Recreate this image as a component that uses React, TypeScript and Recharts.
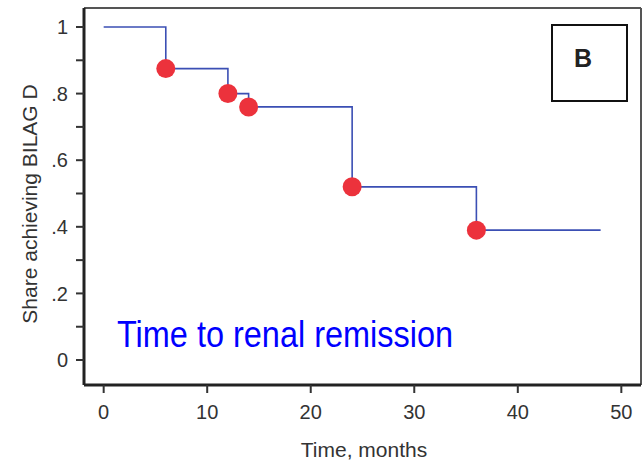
import { ComposedChart, Line, Scatter, XAxis, YAxis, ReferenceLine } from 'recharts'

const months = [0, 6, 12, 14, 24, 36, 48]
const share = [1, 0.875, 0.8, 0.76, 0.52, 0.39, 0.39]
const eventMonths = [6, 12, 14, 24, 36]
const eventShare = [0.875, 0.8, 0.76, 0.52, 0.39]
const xTicks = [0, 10, 20, 30, 40, 50]
const yTicks = [0, 0.1, 0.2, 0.3, 0.4, 0.5, 0.6, 0.7, 0.8, 0.9, 1]
const yTickLabels = ['0', '', '.2', '', '.4', '', '.6', '', '.8', '', '1']

const stepData = months.map((m, i) => ({ time: m, share: share[i] }))
const eventData = eventMonths.map((m, i) => ({ time: m, share: eventShare[i] }))

const X_DOMAIN: [number, number] = [-1.9, 51.9]
const Y_DOMAIN: [number, number] = [-0.075, 1.057]

const font = '"Liberation Sans", Arial, sans-serif'

const Dot = (props: any) => <circle cx={props.cx} cy={props.cy} r={9.5} fill='#ec323c' />

export default function App() {
  return (
    <div style={{ position: 'absolute', left: 0, top: 0, width: 644, height: 462, background: '#fff', fontFamily: font }}>
      <ComposedChart width={644} height={462} margin={{ top: 8, right: 3, left: 0, bottom: 0 }}>
        <XAxis
          dataKey='time'
          type='number'
          domain={X_DOMAIN}
          ticks={xTicks}
          allowDataOverflow
          height={77}
          tickSize={8}
          tickMargin={12}
          stroke='#222'
          tick={{ fill: '#333', fontSize: 20, fontFamily: font }}
          axisLine={{ stroke: '#222', strokeWidth: 3 }}
          tickLine={{ stroke: '#333', strokeWidth: 2 }}
        />
        <YAxis
          type='number'
          domain={Y_DOMAIN}
          ticks={yTicks}
          allowDataOverflow
          width={84}
          tickSize={8}
          tickMargin={8}
          tickFormatter={(v, i) => yTickLabels[i] ?? ''}
          stroke='#222'
          tick={{ fill: '#333', fontSize: 20, fontFamily: font }}
          axisLine={{ stroke: '#222', strokeWidth: 3 }}
          tickLine={{ stroke: '#333', strokeWidth: 2 }}
        />
        <ReferenceLine y={Y_DOMAIN[1]} stroke='#555' strokeWidth={2} ifOverflow='visible' />
        <ReferenceLine x={X_DOMAIN[1]} stroke='#555' strokeWidth={2} ifOverflow='visible' />
        <Line
          data={stepData}
          dataKey='share'
          type='stepAfter'
          stroke='#3b4fb4'
          strokeWidth={1.6}
          dot={false}
          activeDot={false}
          isAnimationActive={false}
        />
        <Scatter data={eventData} dataKey='share' shape={Dot} isAnimationActive={false} />
      </ComposedChart>
      <svg width={644} height={462} style={{ position: 'absolute', left: 0, top: 0, pointerEvents: 'none' }}>
        <rect x={552} y={25} width={75} height={76} fill='none' stroke='#111' strokeWidth={2} />
        <text x={583} y={67} textAnchor='middle' fontSize={25} fontWeight='bold' fill='#222' fontFamily={font}>B</text>
        <text x={117} y={347} fontSize={36} textLength={336} lengthAdjust='spacingAndGlyphs' fill='#0000ff' fontFamily={font}>
          Time to renal remission
        </text>
        <text x={364} y={457} textAnchor='middle' fontSize={21} fill='#333' fontFamily={font}>Time, months</text>
        <text
          x={0}
          y={0}
          transform='translate(37,204) rotate(-90)'
          textAnchor='middle'
          fontSize={21}
          fill='#333'
          fontFamily={font}
        >
          Share achieving BILAG D
        </text>
      </svg>
    </div>
  )
}
